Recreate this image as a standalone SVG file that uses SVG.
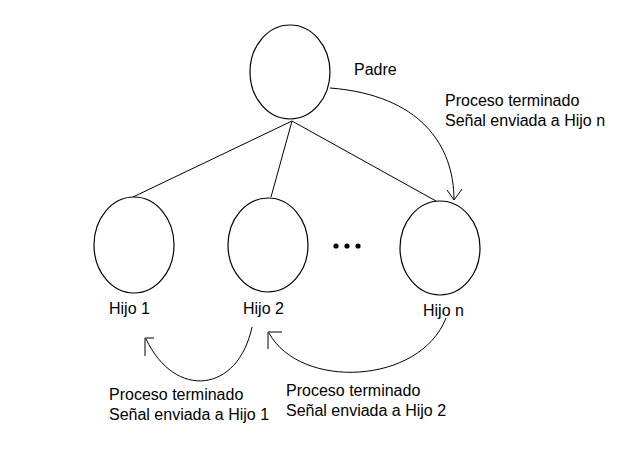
<svg xmlns="http://www.w3.org/2000/svg" width="636" height="460" viewBox="0 0 636 460">
<style>
.n{fill:#fff;stroke:#000;stroke-width:1.2}
.c{fill:none;stroke:#000;stroke-width:1}
.t{font-family:"Liberation Sans",Arial,sans-serif;font-size:16px;fill:#000}
</style>
<rect width="636" height="460" fill="#fff"/>
<g id="connectors">
<line class="c" x1="292" y1="121" x2="133" y2="197"/>
<line class="c" x1="292" y1="121" x2="271" y2="197"/>
<line class="c" x1="292" y1="121" x2="436" y2="201"/>
<path class="c" d="M330,88 C420,95 454,145 454,200"/>
<polyline class="c" points="447,190 454,200 462,189"/>
<path class="c" d="M252,327 C238,393 175,400 146,339"/>
<polyline class="c" points="154,338 145,338 145,356"/>
<path class="c" d="M446,318 C420,385 300,390 269,333"/>
<polyline class="c" points="282,332 268,332 268,349"/>
</g>
<g id="padre">
<ellipse class="n" cx="290" cy="72" rx="40" ry="47"/>
<text class="t" x="354" y="75">Padre</text>
</g>
<g id="hijo1">
<ellipse class="n" cx="134" cy="245" rx="40" ry="48"/>
<text class="t" x="109" y="314">Hijo 1</text>
</g>
<g id="hijo2">
<ellipse class="n" cx="268" cy="245" rx="40" ry="47"/>
<text class="t" x="243" y="314">Hijo 2</text>
</g>
<g id="hijon">
<ellipse class="n" cx="440" cy="248" rx="40" ry="47"/>
<text class="t" x="423" y="316">Hijo n</text>
</g>
<g id="dots">
<circle cx="336" cy="246" r="2.6"/>
<circle cx="347" cy="246" r="2.6"/>
<circle cx="358" cy="246" r="2.6"/>
</g>
<g id="labels">
<text class="t" x="445" y="106">Proceso terminado</text>
<text class="t" x="445" y="126">Señal enviada a Hijo n</text>
<text class="t" x="109" y="400">Proceso terminado</text>
<text class="t" x="109" y="420">Señal enviada a Hijo 1</text>
<text class="t" x="286" y="396">Proceso terminado</text>
<text class="t" x="286" y="416">Señal enviada a Hijo 2</text>
</g>
</svg>
